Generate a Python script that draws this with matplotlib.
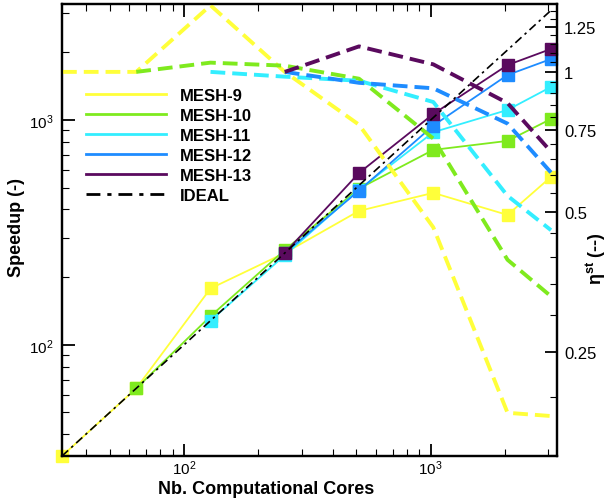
import matplotlib
matplotlib.use("Agg")
import matplotlib.pyplot as plt
import numpy as np
from matplotlib.ticker import NullFormatter

plt.rcParams["font.family"] = ["Liberation Sans", "DejaVu Sans"]
plt.rcParams["mathtext.fontset"] = "custom"
plt.rcParams["mathtext.rm"] = "Liberation Sans"
plt.rcParams["mathtext.bf"] = "Liberation Sans:bold"

# speedup, per mesh
cores_9 = [32, 64, 128, 256, 512, 1024, 2048, 3072]
speedup_9 = [32, 64, 178, 256, 394, 474, 378, 558]

cores_10 = [64, 128, 256, 512, 1024, 2048, 3072]
speedup_10 = [64, 134, 264, 495, 736, 807, 1010]

cores_11 = [128, 256, 512, 1024, 2048, 3072]
speedup_11 = [128, 250, 490, 882, 1108, 1402]

cores_12 = [256, 512, 1024, 2048, 3072]
speedup_12 = [256, 485, 944, 1585, 1866]

cores_13 = [256, 512, 1024, 2048, 3072]
speedup_13 = [256, 581, 1063, 1755, 2069]

ideal_cores = [32, 3072]

labels = ["MESH-9", "MESH-10", "MESH-11", "MESH-12", "MESH-13"]
colors = ["#FFFF3A", "#7FEA1E", "#33EEFF", "#1E8CFF", "#5A0A5E"]
all_cores = [cores_9, cores_10, cores_11, cores_12, cores_13]
all_speedup = [speedup_9, speedup_10, speedup_11, speedup_12, speedup_13]

eff_ticks = [0.25, 0.5, 0.75, 1.0, 1.25]
eff_tick_labels = ["0.25", "0.5", "0.75", "1", "1.25"]

fig = plt.figure(figsize=(6.07, 5.02), dpi=100)
ax1 = fig.add_axes([62 / 607, 1 - 457 / 502, 495 / 607, 452 / 502])
ax2 = ax1.twinx()

for c, s, lab, col in zip(all_cores, all_speedup, labels, colors):
    ax1.plot(c, s, color=col, lw=1.3, marker="s", ms=8.5, mec=col, label=lab,
             clip_on=False)
    # parallel efficiency = speedup / cores, on the right axis
    eff = np.array(s) / np.array(c)
    ax2.plot(c, eff, color=col, lw=2.8, ls=(0, (3.8, 1.8)))

ax1.plot(ideal_cores, ideal_cores, color="black", lw=1.2,
         ls=(0, (5, 2.5, 1.5, 2.5)), label="IDEAL", zorder=5)

ax1.set_xscale("log")
ax1.set_yscale("log")
ax1.set_xlim(32, 3250)
ax1.set_ylim(32, 3280)

ax2.set_yscale("log")
ax2.set_ylim(0.149, 1.40)
ax2.set_yticks(eff_ticks, eff_tick_labels)
ax2.set_yticks(np.arange(0.15, 1.4, 0.05), minor=True)
ax2.yaxis.set_minor_formatter(NullFormatter())

ax1.xaxis.set_minor_formatter(NullFormatter())
ax1.yaxis.set_minor_formatter(NullFormatter())

ax1.tick_params(which="both", direction="in", top=True, right=False,
                labelsize=11, width=1.3)
ax1.tick_params(which="major", length=9)
ax1.tick_params(which="minor", length=5, width=0.8)
ax1.tick_params(axis="x", pad=2)
ax1.tick_params(axis="y", pad=6)
ax2.tick_params(which="both", direction="in", labelsize=12, pad=5)
ax2.tick_params(which="major", length=9, width=1.3)
ax2.tick_params(which="minor", length=5, width=0.8)

for ax in (ax1, ax2):
    for sp in ax.spines.values():
        sp.set_linewidth(1.6)

ax1.set_xlabel("Nb. Computational Cores", fontsize=13, fontweight="bold")
ax1.xaxis.set_label_coords(0.412, -0.052)
ax1.set_ylabel("Speedup (-)", fontsize=13, fontweight="bold")
ax1.yaxis.set_label_coords(-0.075, 0.507)
ax2.set_ylabel(r"η$^{\mathbf{st}}$ (--)", fontsize=13, fontweight="bold")
ax2.yaxis.set_label_coords(1.055, 0.44)

leg = ax1.legend(loc="upper left", bbox_to_anchor=(0.035, 0.83), frameon=False,
                 prop={"size": 12, "weight": "bold"}, handlelength=4.8,
                 handletextpad=0.85, labelspacing=0.3, borderaxespad=0)
for h in leg.get_lines():
    h.set_marker("")
    h.set_linewidth(2)

fig.savefig("out.png", dpi=100)
